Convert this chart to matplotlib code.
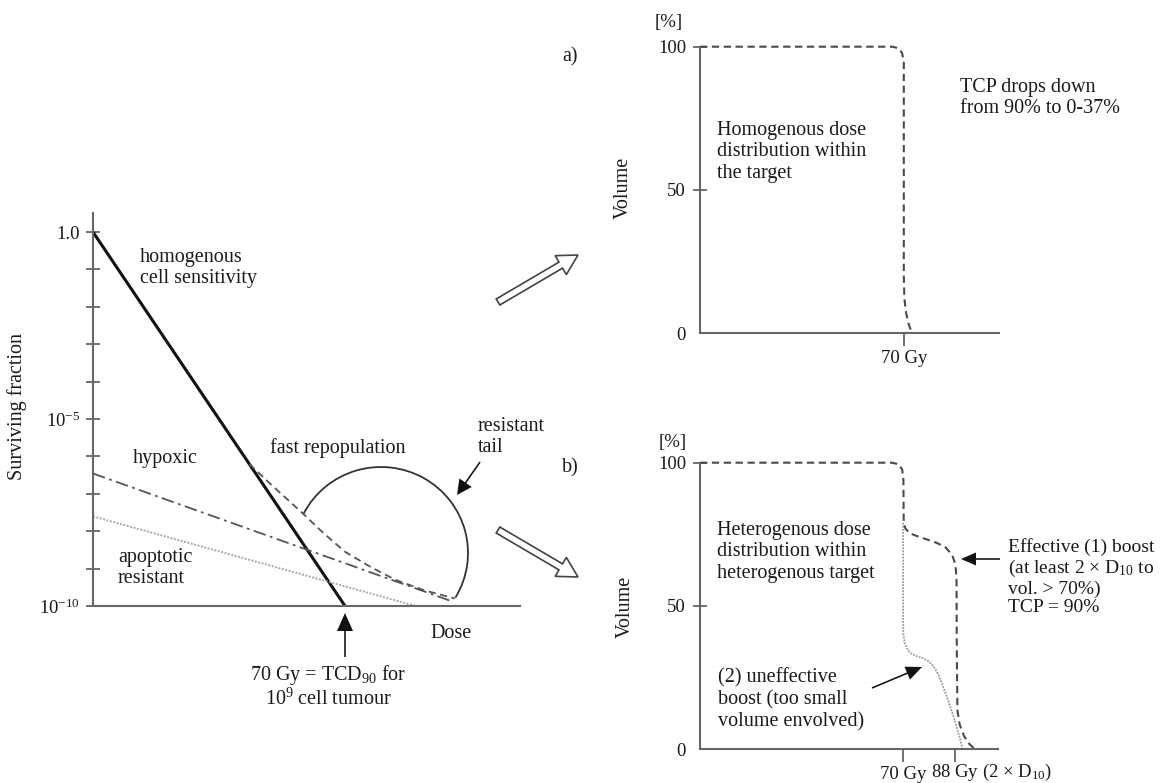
import matplotlib
matplotlib.use("Agg")
import matplotlib.pyplot as plt
import numpy as np
from matplotlib.transforms import Affine2D
from matplotlib.patches import FancyArrow, Arc
from matplotlib.ticker import NullLocator

plt.rcParams['font.family'] = ['Liberation Serif', 'DejaVu Serif']
plt.rcParams['mathtext.fontset'] = 'custom'
plt.rcParams['mathtext.rm'] = 'Liberation Serif'
plt.rcParams['mathtext.it'] = 'Liberation Serif:italic'
plt.rcParams['mathtext.bf'] = 'Liberation Serif:bold'

# ---------------- data ----------------
# Left panel: surviving fraction vs dose (Gy)
hom_dose = [0, 70]
hom_sf = [1.0, 1e-10]
hyp_dose = [0, 100]
hyp_sf = [3.5e-7, 1.3e-10]
apo_dose = [0, 89.6]
apo_sf = [2.5e-8, 1e-10]
rep_dose = [43.4, 50, 58, 64, 70, 77, 84, 92, 100.5]
rep_log_sf = [-6.2, -6.8, -7.5, -8.05, -8.55, -8.95, -9.3, -9.58, -9.8]
sf_tick_exp = [0, -1, -2, -3, -4, -5, -6, -7, -8, -9, -10]
sf_tick_labels = ['1.0', '', '', '', '', '10$^{-5}$', '', '', '', '', '10$^{-10}$']

# Panel a): homogeneous DVH
a_dose = [0, 66, 68.2, 69.4, 70, 70, 70.2, 70.8, 71.7, 72.8]
a_vol = [100, 100, 99.5, 97.8, 95, 20, 12, 7, 3, 0]

# Panel b): heterogeneous DVH, effective boost (dashed)
b1_dose = [0, 66, 68.5, 69.7, 70.1, 70.2, 70.8, 72.4, 76, 80.6, 84.4, 86.9,
           88.0, 88.4, 88.5, 88.7, 89.5, 91, 92.8, 94.6]
b1_vol = [100, 100, 99.5, 97.5, 94, 79, 77, 75.3, 73.9, 72.4, 70.7, 67.8,
          64.5, 60, 35, 13.6, 8.5, 4.5, 1.8, 0]
# uneffective boost (dotted)
b2_dose = [70, 70, 70.1, 70.5, 71.3, 72.4, 74.5, 76.8, 79, 80.6, 82, 83.3,
           85.5, 87.8, 89.5, 90.5]
b2_vol = [79, 45, 40, 37.2, 35.2, 33.6, 32.5, 31.7, 30.5, 28.7, 26.3, 23,
          17, 10, 4, 0]
vol_ticks = [0, 50, 100]
vol_tick_labels = ['0', '50', '100']

# ---------------- figure ----------------
W, H = 1168, 783
fig = plt.figure(figsize=(W / 100, H / 100), dpi=100)
pix = Affine2D().scale(1.0 / W, -1.0 / H).translate(0, 1) + fig.transFigure

TXT = '#1a1a1a'
AX = '#666666'
FS = 14.5
TFS = 13.5


def add_axes_px(left, top, right, bottom):
    return fig.add_axes([left / W, 1 - bottom / H, (right - left) / W, (bottom - top) / H])


def style_axes(ax):
    for s in ('top', 'right'):
        ax.spines[s].set_visible(False)
    for s in ('left', 'bottom'):
        ax.spines[s].set_color(AX)
        ax.spines[s].set_linewidth(1.5)
    ax.patch.set_alpha(0)


def ftext(x, y, s, **kw):
    kw.setdefault('fontsize', FS)
    kw.setdefault('color', TXT)
    kw.setdefault('va', 'center')
    kw.setdefault('ha', 'left')
    kw.setdefault('linespacing', 1.2)
    fig.text(x, y, s, transform=pix, **kw)


def farrow(x0, y0, x1, y1, hw=15, hl=16):
    fig.add_artist(FancyArrow(x0, y0, x1 - x0, y1 - y0, width=1.6, head_width=hw,
                              head_length=hl, length_includes_head=True,
                              transform=pix, color='#111111', lw=0))


# ---- left panel ----
axL = add_axes_px(93, 213, 520, 606)
style_axes(axL)
axL.set_yscale('log')
axL.set_xlim(0, 118.6)
axL.set_ylim(1e-10, 10 ** 0.51)
axL.set_yticks([10.0 ** e for e in sf_tick_exp])
axL.set_yticklabels(sf_tick_labels)
axL.yaxis.set_minor_locator(NullLocator())
axL.set_xticks([])
axL.tick_params(axis='y', direction='inout', length=10.5, width=1.3, color=AX,
                labelsize=TFS, labelcolor=TXT, pad=4)

axL.plot(hom_dose, hom_sf, color='#111111', lw=2.2, solid_capstyle='butt')
axL.plot(hyp_dose, hyp_sf, color='#555555', lw=1.3, ls=(0, (7, 2.5, 1.5, 2.5)))
axL.plot(apo_dose, apo_sf, color='#a8a8a8', lw=1.4, ls=(0, (1, 0.8)))
axL.plot(rep_dose, 10.0 ** np.array(rep_log_sf), color='#555555', lw=1.3,
         ls=(0, (4, 2.5)))

# resistant tail arc + arrow
fig.add_artist(Arc((381, 553), 174, 172, theta1=-153, theta2=31, transform=pix,
                   color='#333333', lw=1.3))
farrow(480, 462, 457, 495, hw=15, hl=15)
# TCD90 arrow
farrow(345, 657, 345, 613, hw=16, hl=18)

ftext(17, 407, 'Surviving fraction', rotation=90, ha='center')
ftext(140, 268, 'homogenous\ncell sensitivity')
ftext(133, 459, 'hypoxic')
ftext(270, 448, 'fast repopulation')
ftext(478, 437, 'resistant\ntail')
ftext(118, 568, 'apoptotic\nresistant')
ftext(430, 633, 'Dose')
ftext(328, 686, '70 Gy = TCD$_{90}$ for\n10$^{9}$ cell tumour', ha='center',
      multialignment='center', linespacing=1.1)
ftext(562, 57, 'a)')
ftext(562, 468, 'b)')

# hollow block arrows
for (x0, y0, x1, y1) in [(498, 302, 578, 255), (498, 530, 578, 577)]:
    fig.add_artist(FancyArrow(x0, y0, x1 - x0, y1 - y0, width=7, head_width=22,
                              head_length=20, length_includes_head=True,
                              transform=pix, fc='white', ec='#444444', lw=1.2))


# ---- right panels ----
def dvh_axes(top, bottom, right):
    ax = add_axes_px(700, top, right, bottom)
    style_axes(ax)
    ax.set_xlim(0, 102.7)
    ax.set_ylim(0, 100)
    ax.set_yticks(vol_ticks)
    ax.set_yticklabels(vol_tick_labels)
    ax.tick_params(axis='y', direction='inout', length=10, width=1.3, color=AX,
                   labelsize=TFS, labelcolor=TXT, pad=5)
    ax.tick_params(axis='x', direction='out', length=9.5, width=1.3, color=AX,
                   labelsize=TFS, labelcolor=TXT, pad=3)
    ax.yaxis.get_major_ticks()[0].tick1line.set_visible(False)
    return ax


axA = dvh_axes(46.7, 333, 999)
axA.set_xticks([70])
axA.set_xticklabels(['70 Gy'])
axA.plot(a_dose, a_vol, color='#4a4a4a', lw=1.5, ls=(0, (3.5, 2.2)), clip_on=False)

ftext(669, 22, '[%]', ha='center', fontsize=TFS)
ftext(623, 188, 'Volume', rotation=90, ha='center')
ftext(717, 152, 'Homogenous dose\ndistribution within\nthe target')
ftext(960, 98, 'TCP drops down\nfrom 90% to 0-37%')

axB = dvh_axes(462.7, 749, 998)
axB.set_xticks([70, 88])
axB.set_xticklabels(['70 Gy', ''])
axB.plot(b1_dose, b1_vol, color='#4a4a4a', lw=1.5, ls=(0, (3.5, 2.2)), clip_on=False)
axB.plot(b2_dose, b2_vol, color='#9a9a9a', lw=1.3, ls=(0, (1, 0.7)), clip_on=False)

ftext(931, 772, '88 Gy (2 × D$_{10}$)', fontsize=TFS)
ftext(673, 442, '[%]', ha='center', fontsize=TFS)
ftext(625, 607, 'Volume', rotation=90, ha='center')
ftext(717, 552, 'Heterogenous dose\ndistribution within\nheterogenous target')
ftext(1008, 577, 'Effective (1) boost\n(at least 2 × D$_{10}$ to\nvol. > 70%)\nTCP = 90%',
      fontsize=14, linespacing=1.12)
ftext(718, 700, '(2) uneffective\nboost (too small\nvolume envolved)')
farrow(1000, 559, 961, 559, hw=13, hl=15)
farrow(872, 688, 922, 667, hw=14, hl=16)

fig.savefig('out.png', dpi=100, facecolor='white')
